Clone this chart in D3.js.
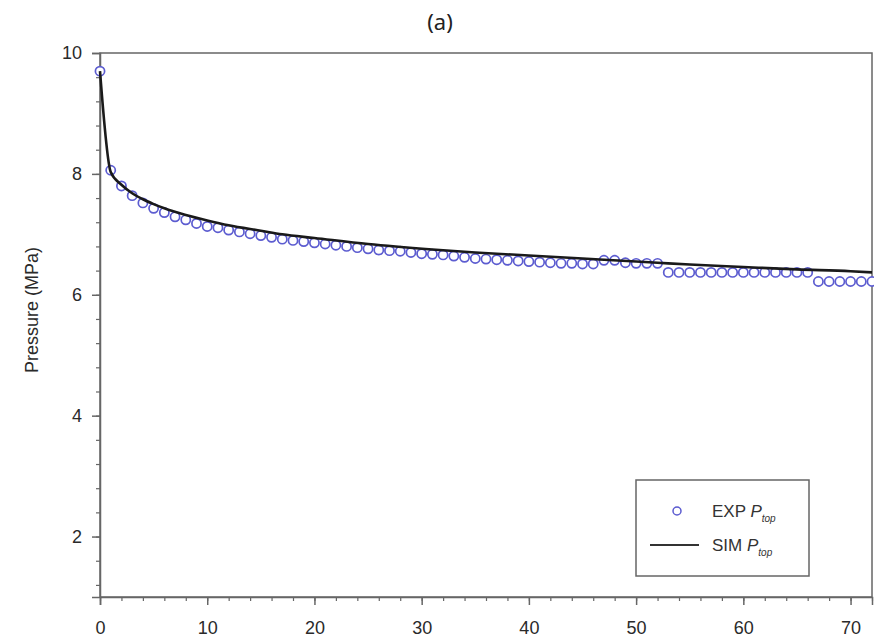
<!DOCTYPE html>
<html>
<head>
<meta charset="utf-8">
<script src="https://cdn.jsdelivr.net/npm/d3@7.9.0/dist/d3.min.js"></script>
<style>
  body { margin: 0; background: #fff; }
  svg { display: block; }
  .tick text { font-family: "Liberation Sans", Arial, sans-serif; fill: #2a2a2a; }
</style>
</head>
<body>
<svg id="chart" width="874" height="640"></svg>
<script>
// experimental points (one per time step)
const expX = [0,1,2,3,4,5,6,7,8,9,10,11,12,13,14,15,16,17,18,19,20,21,22,23,24,25,26,27,28,29,30,
  31,32,33,34,35,36,37,38,39,40,41,42,43,44,45,46,47,48,49,50,51,52,53,54,55,56,57,58,59,60,
  61,62,63,64,65,66,67,68,69,70,71,72];
const expP = [9.70,8.06,7.80,7.64,7.52,7.43,7.36,7.29,7.24,7.18,7.13,7.11,7.07,7.04,7.01,6.98,
  6.95,6.92,6.90,6.88,6.86,6.84,6.82,6.80,6.78,6.76,6.74,6.73,6.72,6.70,6.68,6.67,6.66,6.64,
  6.62,6.60,6.59,6.58,6.57,6.56,6.55,6.54,6.53,6.52,6.52,6.51,6.51,6.57,6.57,6.53,6.52,6.52,
  6.52,6.37,6.37,6.37,6.37,6.37,6.37,6.37,6.37,6.37,6.37,6.37,6.37,6.37,6.37,6.22,6.22,6.22,
  6.22,6.22,6.22];

// simulated curve
const simX = [0,1,2,3,4,5,6,8,10,12,15,17,20,25,31,35,40,45,50,52,55,60,65,70,72];
const simP = [9.70,8.03,7.82,7.68,7.58,7.50,7.43,7.32,7.23,7.15,7.06,7.00,6.94,6.84,6.75,
  6.70,6.65,6.60,6.55,6.53,6.50,6.46,6.42,6.39,6.37];

const xTicks = [0,10,20,30,40,50,60,70];
const yTicks = [2,4,6,8,10];
const title = "(a)";
const yTitle = "Pressure (MPa)";

const svg = d3.select("#chart");
const margin = { left: 100, top: 53, right: 2, bottom: 43 };
const W = 874, H = 640;

const x = d3.scaleLinear().domain([0, 72]).range([margin.left, W - margin.right]);
const y = d3.scaleLinear().domain([1, 10]).range([H - margin.bottom, margin.top]);

const axisColor = "#666";

// frame (top + right)
svg.append("rect")
  .attr("x", x(0)).attr("y", y(10))
  .attr("width", x(72) - x(0)).attr("height", y(1) - y(10))
  .attr("fill", "none").attr("stroke", axisColor).attr("stroke-width", 1.5);

// minor ticks
const xMinor = d3.axisBottom(x).tickValues(d3.range(0, 73, 2)).tickSize(4).tickFormat("");
const yMinor = d3.axisLeft(y).tickValues(d3.range(1.2, 10, 0.4)).tickSize(4).tickFormat("");

svg.append("g").attr("transform", `translate(0,${y(1)})`).call(xMinor)
  .call(g => g.select(".domain").remove())
  .selectAll("line").attr("stroke", axisColor).attr("stroke-width", 1.2);
svg.append("g").attr("transform", `translate(${x(0)},0)`).call(yMinor)
  .call(g => g.select(".domain").remove())
  .selectAll("line").attr("stroke", axisColor).attr("stroke-width", 1.2);

// major axes
const xAxis = d3.axisBottom(x).tickValues(xTicks).tickSize(8).tickPadding(16);
const yAxis = d3.axisLeft(y).tickValues(yTicks).tickSize(8).tickPadding(10);

const gx = svg.append("g").attr("transform", `translate(0,${y(1)})`).call(xAxis);
const gy = svg.append("g").attr("transform", `translate(${x(0)},0)`).call(yAxis);
[gx, gy].forEach(g => {
  g.select(".domain").attr("stroke", axisColor).attr("stroke-width", 1.5);
  g.selectAll(".tick line").attr("stroke", axisColor).attr("stroke-width", 1.5);
  g.selectAll(".tick text").attr("font-size", 18);
});

// experimental markers
const markerColor = "#5c5cd0";
svg.append("g").selectAll("circle")
  .data(expP)
  .join("circle")
  .attr("cx", (d, i) => x(expX[i]))
  .attr("cy", d => y(d))
  .attr("r", 4.6)
  .attr("fill", "#fff")
  .attr("stroke", markerColor)
  .attr("stroke-width", 1.7);

// simulated line
const line = d3.line().x((d, i) => x(simX[i])).y(d => y(d)).curve(d3.curveMonotoneX);
svg.append("path")
  .datum(simP)
  .attr("d", line)
  .attr("fill", "none")
  .attr("stroke", "#1a1a1a")
  .attr("stroke-width", 2.6);

// titles
svg.append("text")
  .attr("x", 440).attr("y", 30)
  .attr("text-anchor", "middle")
  .attr("font-family", "'Noto Sans', sans-serif")
  .attr("font-size", 22)
  .attr("fill", "#222")
  .text(title);

svg.append("text")
  .attr("transform", `translate(38,310) rotate(-90)`)
  .attr("text-anchor", "middle")
  .attr("font-family", "'Liberation Sans', Arial, sans-serif")
  .attr("font-size", 18)
  .attr("fill", "#2a2a2a")
  .text(yTitle);

// legend
const lg = svg.append("g").attr("font-family", "'Liberation Sans', Arial, sans-serif").attr("fill", "#333");
lg.append("rect")
  .attr("x", 636).attr("y", 480).attr("width", 173).attr("height", 96)
  .attr("fill", "#fff").attr("stroke", axisColor).attr("stroke-width", 1.5);

lg.append("circle")
  .attr("cx", 677).attr("cy", 511).attr("r", 4)
  .attr("fill", "#fff").attr("stroke", markerColor).attr("stroke-width", 1.5);
lg.append("line")
  .attr("x1", 650).attr("x2", 699).attr("y1", 545).attr("y2", 545)
  .attr("stroke", "#333").attr("stroke-width", 2.2);

const entries = [["EXP", 517], ["SIM", 551]];
entries.forEach(([label, yy]) => {
  const t = lg.append("text").attr("x", 712).attr("y", yy).attr("font-size", 17);
  t.append("tspan").text(label + " ");
  t.append("tspan").attr("font-style", "italic").text("P");
  t.append("tspan").attr("font-style", "italic").attr("font-size", 10).attr("dy", 5).text("top");
});
</script>
</body>
</html>
